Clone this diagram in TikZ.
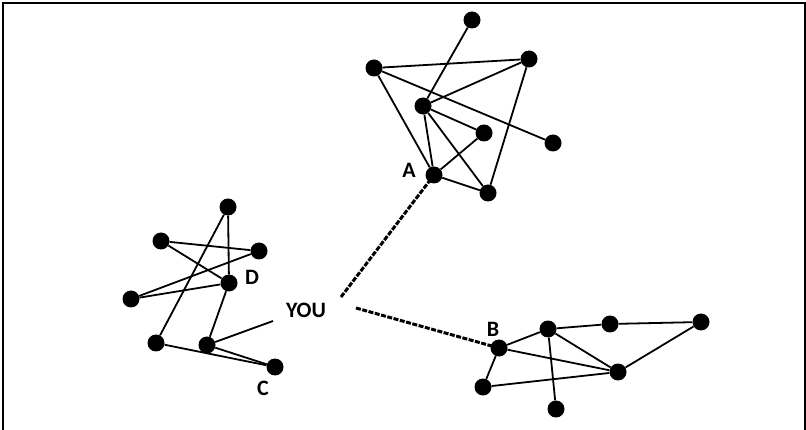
\documentclass[tikz,border=0pt]{standalone}
\usepackage{fontspec}
\setmainfont{Carlito}
\pgfdeclarelayer{background}
\pgfsetlayers{background,main}
\def\groupA{{(472,20)/a1}, {(374,68)/a2}, {(529,59)/a3}, {(423,106)/a4}, {(484,133)/a5}, {(553,143)/a6}, {(434,175)/A}, {(488,193)/a8}}
\def\groupB{{(499,348)/B}, {(548,329)/b2}, {(610,324)/b3}, {(701,322)/b4}, {(618,372)/b5}, {(483,387)/b6}, {(556,409)/b7}}
\def\groupD{{(228,207)/d1}, {(161,241)/d2}, {(259,251)/d3}, {(229,283)/D}, {(131,299)/d5}, {(156,343)/d6}, {(207,345)/d7}, {(275,367)/C}}
\def\connectA{a1/a4, a2/a3, a2/a6, a2/A, a3/a4, a3/a8, a4/A, a4/a5, a4/a8, a5/A, A/a8}
\def\connectB{B/b2, b2/b3, b3/b4, b4/b5, b2/b5, B/b5, B/b6, b6/b5, b2/b7}
\def\connectD{d1/D, d1/d6, d2/d3, d2/D, d3/d5, D/d5, D/d7, d6/C, d7/C}
\tikzstyle{vertex}=[circle,fill=black,minimum size=17pt,inner sep=0pt]
\tikzstyle{edge} = [draw, line width=1.8pt, -]
\tikzstyle{link edge} = [draw, line width=3pt, dash pattern=on 5pt off 1.5pt, -]
\tikzstyle{tag}=[font=\bfseries\fontsize{22}{24}\selectfont, inner sep=0pt]
\begin{document}
\begin{tikzpicture}[x=1pt, y=-1pt]
  \useasboundingbox (0,0) rectangle (806,430);
  % The frame
  \draw[line width=2pt] (3,432) -- (3,3) -- (805,3) -- (805,432);

  % The three groups of people
  \foreach \pos/\name in \groupA {
    \node[vertex] (\name) at \pos {};
  }
  \foreach \pos/\name in \groupB {
    \node[vertex] (\name) at \pos {};
  }
  \foreach \pos/\name in \groupD {
    \node[vertex] (\name) at \pos {};
  }

  % The labels
  \foreach \pos/\name/\txt in {{(409,170)/labelA/A}, {(493,329)/labelB/B}, {(263,388)/labelC/C}, {(252,277)/labelD/D}, {(306,310)/you/YOU}} {
    \node[tag] (\name) at \pos {\txt};
  }
  \coordinate (youD) at (273,321);
  \coordinate (youA) at (341,297);
  \coordinate (youB) at (356,308);

  \begin{pgfonlayer}{background}
    \foreach \source/\sink in \connectA
      \path[edge] (\source) -- (\sink);
    \foreach \source/\sink in \connectB
      \path[edge] (\source) -- (\sink);
    \foreach \source/\sink in \connectD
      \path[edge] (\source) -- (\sink);
    \path[edge] (d7) -- (youD);
  \end{pgfonlayer}

  % The links from you
  \path[link edge] (youA) -- (A.center);
  \path[link edge] (youB) -- (B.center);

\end{tikzpicture}
\end{document}
